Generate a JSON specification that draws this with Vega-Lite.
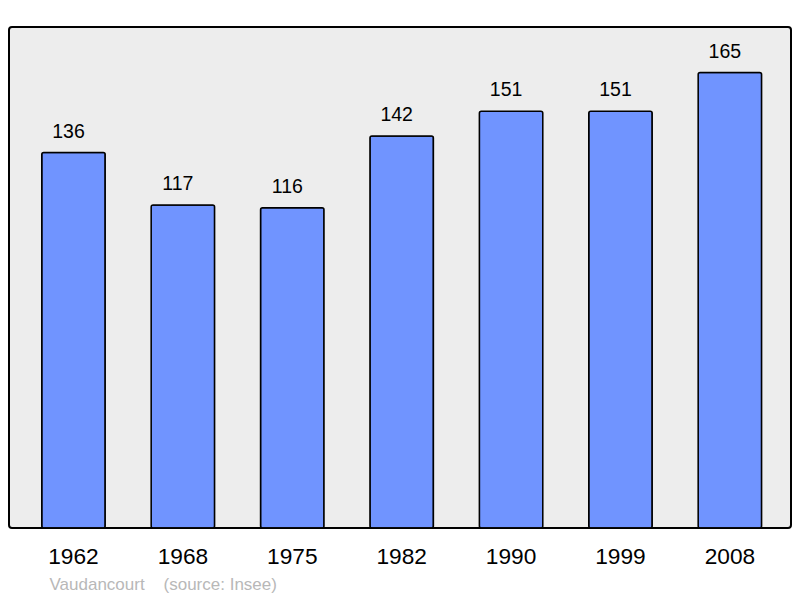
{
  "$schema": "https://vega.github.io/schema/vega-lite/v6.json",
  "description": "Population of Vaudancourt by census year.",
  "autosize": "none",
  "width": 782,
  "height": 501,
  "padding": {"left": 9, "top": 27, "right": 9, "bottom": 70},
  "background": "#ffffff",
  "config": {
    "view": {"fill": "#ededed", "stroke": "#000000", "strokeWidth": 2, "cornerRadius": 3},
    "font": "Liberation Sans"
  },
  "data": {
    "values": [
      {"year": "1962", "population": 136},
      {"year": "1968", "population": 117},
      {"year": "1975", "population": 116},
      {"year": "1982", "population": 142},
      {"year": "1990", "population": 151},
      {"year": "1999", "population": 151},
      {"year": "2008", "population": 165}
    ]
  },
  "encoding": {
    "x": {
      "field": "year",
      "type": "ordinal",
      "scale": {"paddingInner": 0.42, "paddingOuter": 0.284, "align": 0.527},
      "axis": {
        "domain": false,
        "ticks": false,
        "labelAngle": 0,
        "labelFontSize": 22.7,
        "labelColor": "#000000",
        "labelBaseline": "alphabetic",
        "labelPadding": 35,
        "title": "Vaudancourt\u00a0\u00a0\u00a0\u00a0(source: Insee)",
        "titleFontSize": 17,
        "titleFontWeight": "normal",
        "titleColor": "#b8b8b8",
        "titleAnchor": "start",
        "titleAlign": "left",
        "titleBaseline": "alphabetic",
        "titleX": 40,
        "titleY": 61
      }
    },
    "y": {
      "field": "population",
      "type": "quantitative",
      "scale": {"domain": [0, 181.5], "nice": false},
      "axis": null
    }
  },
  "layer": [
    {
      "mark": {"type": "bar", "fill": "#7094ff", "stroke": "#000000", "strokeWidth": 1.5, "cornerRadius": 2}
    },
    {
      "mark": {"type": "text", "baseline": "alphabetic", "dx": -5, "dy": -15, "fontSize": 19.5, "color": "#000000"},
      "encoding": {"text": {"field": "population", "type": "quantitative"}}
    }
  ]
}
